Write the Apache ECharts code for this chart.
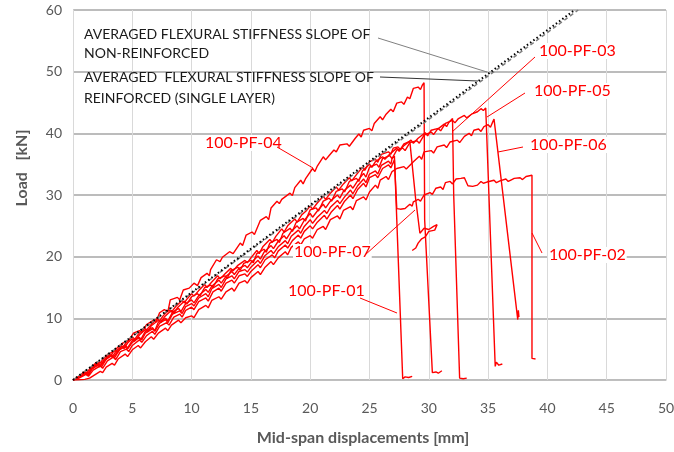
<!DOCTYPE html>
<html lang="en">
<head>
    <meta charset="UTF-8">
    <title>Load vs mid-span displacement</title>
    <script src="https://cdn.jsdelivr.net/npm/echarts@6.0.0/dist/echarts.min.js"></script>
    <style>
        html, body { margin: 0; padding: 0; background: #fff; }
    </style>
</head>
<body>
    <div id="main" style="width: 674px; height: 452px;"></div>
    <script type="text/javascript">
        // axis ticks
        const xTicks = [0, 5, 10, 15, 20, 25, 30, 35, 40, 45, 50];
        const yTicks = [0, 10, 20, 30, 40, 50, 60];

        // averaged stiffness slopes [displacement mm, load kN]
        const slopeNonReinf = [[0, 0], [42.3, 60]];
        const slopeReinf = [[0, 0], [42.6, 60]];

        // test curves
        const pf01 = [[0,0],[0.5,0.5],[1.1,1.1],[1.3,0.8],[1.6,1.8],[2.2,2.5],[2.4,2.1],[2.8,3.4],[3.3,4.0],[3.5,3.6],[3.9,4.9],[4.4,5.4],[4.6,5.0],[5.0,6.1],[5.6,6.9],[5.8,6.5],[6.1,7.6],[6.7,8.3],[6.9,7.9],[7.3,9.2],[7.8,9.8],[8.0,9.3],[8.4,10.7],[9.0,11.2],[9.2,10.8],[9.5,11.9],[10.0,12.4],[10.2,12.0],[10.6,13.3],[11.2,14.0],[11.4,13.5],[11.7,14.8],[12.3,15.5],[12.5,15.0],[12.9,16.4],[13.4,16.9],[13.6,16.4],[14.0,17.6],[14.5,17.9],[14.7,17.5],[15.0,18.3],[15.6,19.4],[15.8,18.9],[16.2,20.2],[16.7,21.0],[16.9,20.5],[17.3,21.6],[17.9,22.6],[18.1,22.1],[18.4,23.3],[19.0,24.3],[19.2,23.8],[19.5,24.9],[20.0,26.0],[20.2,25.4],[20.6,26.4],[21.2,27.5],[21.4,27.0],[21.7,28.0],[22.3,29.1],[22.5,28.6],[22.9,29.7],[23.4,30.8],[23.6,30.2],[24.0,31.5],[24.5,32.6],[24.7,32.0],[25.0,33.4],[25.5,33.9],[25.7,33.4],[26.0,34.8],[26.6,35.5],[26.8,35.0],[26.9,35.9],[27.1,36.3],[27.8,0.2],[28.0,0.5],[28.3,0.4],[28.6,0.6]];
        const pf02 = [[0,0],[0.5,0.3],[1.1,0.9],[1.3,0.6],[1.7,1.6],[2.3,2.3],[2.5,1.9],[2.9,3.1],[3.4,3.7],[3.6,3.3],[4.0,4.6],[4.5,5.0],[4.7,4.6],[5.0,5.6],[5.6,6.5],[5.8,6.1],[6.2,7.2],[6.7,7.9],[6.9,7.4],[7.3,8.7],[7.9,9.3],[8.1,8.9],[8.5,10.2],[9.0,10.7],[9.2,10.2],[9.5,11.3],[10.0,11.8],[10.2,11.4],[10.6,12.7],[11.2,13.3],[11.4,12.8],[11.8,14.3],[12.3,14.9],[12.5,14.4],[12.9,15.7],[13.4,16.2],[13.6,15.7],[14.0,16.9],[14.5,17.2],[14.7,16.8],[15.0,17.6],[15.6,18.7],[15.8,18.2],[16.2,19.5],[16.8,20.3],[17.0,19.8],[17.3,20.9],[17.9,21.9],[18.1,21.4],[18.5,22.6],[19.0,23.5],[19.2,23.0],[19.5,24.1],[20.0,25.0],[20.2,24.5],[20.6,25.6],[21.2,26.7],[21.4,26.1],[21.8,27.3],[22.3,28.3],[22.5,27.7],[22.9,29.0],[23.4,30.0],[23.6,29.4],[24.0,30.9],[24.5,31.9],[24.7,31.3],[25.0,32.8],[25.5,33.3],[25.7,32.8],[26.1,34.3],[26.6,34.9],[26.8,34.4],[27.1,35.7],[27.3,27.8],[27.6,27.7],[28.0,27.8],[28.4,28.5],[28.6,28.2],[28.7,28.9],[29.1,29.3],[29.3,29.0],[29.6,30.0],[30.1,30.4],[30.3,30.1],[30.6,31.1],[31.0,31.3],[31.2,30.9],[31.4,32.0],[31.8,32.2],[32.0,31.8],[32.3,32.6],[32.7,32.7],[33.0,32.8],[33.3,31.5],[33.7,31.4],[34.1,31.6],[34.4,32.2],[34.6,31.9],[34.9,32.1],[35.5,32.4],[35.7,32.0],[36.0,32.3],[36.5,32.6],[36.7,32.2],[37.0,32.5],[37.2,32.7],[37.7,32.8],[37.9,32.5],[38.2,33.0],[38.7,33.2],[38.7,3.5],[39.0,3.4]];
        const pf03 = [[0,0],[0.6,0.5],[1.1,1.2],[1.3,0.9],[1.6,1.8],[2.1,2.6],[2.3,2.2],[2.7,3.2],[3.2,4.1],[3.4,3.7],[3.8,4.7],[4.4,5.7],[4.6,5.2],[5.0,6.4],[5.5,6.9],[5.7,6.5],[6.1,7.9],[6.7,8.5],[6.9,8.0],[7.2,9.4],[7.8,10.0],[8.0,9.6],[8.4,11.0],[8.9,11.6],[9.1,11.1],[9.5,12.4],[10.0,13.0],[10.2,12.5],[10.6,13.7],[11.2,14.7],[11.4,14.2],[11.7,15.2],[12.3,16.2],[12.5,15.7],[12.9,16.8],[13.4,17.6],[13.6,17.1],[14.0,18.1],[14.5,18.6],[14.7,18.2],[15.0,19.0],[15.6,20.1],[15.8,19.6],[16.1,20.7],[16.7,21.8],[16.9,21.3],[17.3,22.5],[17.8,23.4],[18.0,22.9],[18.4,24.1],[18.9,25.0],[19.1,24.5],[19.5,25.9],[20.0,27.0],[20.2,26.4],[20.6,27.4],[21.1,28.5],[21.3,27.9],[21.7,29.0],[22.3,30.0],[22.5,29.5],[22.8,30.6],[23.4,31.6],[23.6,31.1],[24.0,32.3],[24.5,33.5],[24.7,32.9],[25.0,34.5],[25.6,35.0],[25.8,34.5],[26.1,35.9],[26.7,36.4],[26.9,35.9],[27.3,37.3],[27.8,37.6],[28.0,37.2],[28.4,38.5],[29.0,38.8],[29.2,38.4],[29.6,39.7],[30.2,40.2],[30.4,39.8],[30.7,40.6],[31.3,41.5],[31.5,41.1],[31.7,41.8],[32.0,42.4],[32.1,30.0],[32.6,0.3],[32.9,0.2],[33.2,0.3]];
        const pf04 = [[0,0],[0.5,0.6],[1.0,1.3],[1.3,1.2],[1.6,2.0],[2.2,2.9],[2.5,2.7],[3.1,4.3],[3.6,4.8],[3.8,4.5],[4.2,6.0],[4.7,6.4],[5.1,7.6],[5.6,8.0],[5.8,7.7],[6.2,9.0],[6.8,9.7],[7.0,9.4],[7.3,10.9],[7.7,11.4],[8.0,11.1],[8.2,13.0],[8.8,13.4],[9.0,13.0],[9.3,14.6],[9.8,14.9],[10.2,15.7],[10.5,15.3],[10.8,16.6],[11.3,17.3],[11.5,16.9],[11.6,17.9],[12.1,19.5],[12.4,19.2],[12.6,19.9],[13.2,20.8],[13.5,20.5],[14.1,22.2],[14.3,21.8],[14.6,23.5],[15.1,24.0],[15.3,23.6],[15.8,25.9],[16.3,26.5],[16.5,26.0],[16.7,27.9],[17.2,29.0],[17.4,28.6],[17.6,29.3],[18.3,30.3],[18.5,29.9],[18.7,31.2],[19.2,32.4],[19.4,31.8],[19.6,32.6],[20.2,34.3],[20.4,33.8],[20.6,34.7],[21.1,36.2],[21.3,35.7],[21.6,36.4],[22.0,37.3],[22.2,37.0],[22.5,38.1],[23.1,38.3],[23.3,37.9],[23.8,39.2],[24.1,39.9],[24.3,39.4],[24.5,40.5],[25.0,40.8],[25.2,40.4],[25.4,41.6],[25.9,42.7],[26.1,42.2],[26.4,43.1],[26.8,43.9],[27.0,43.5],[27.3,44.9],[27.7,45.1],[27.9,44.7],[28.2,45.9],[28.4,45.6],[28.7,47.3],[29.1,47.5],[29.3,47.1],[29.45,47.8],[29.6,48.2],[29.65,26.0],[30.3,1.2],[30.6,1.3],[30.8,1.1],[31.1,1.5]];
        const pf05 = [[0,0],[0.5,0.4],[1.0,1.1],[1.2,0.8],[1.5,1.7],[2.0,2.5],[2.2,2.1],[2.6,3.2],[3.1,4.1],[3.3,3.7],[3.6,4.6],[4.1,5.5],[4.3,5.1],[4.6,6.0],[5.0,6.7],[5.2,6.3],[5.6,7.3],[6.1,8.2],[6.3,7.8],[6.6,8.8],[7.2,9.7],[7.4,9.3],[7.7,10.2],[8.3,11.3],[8.5,10.8],[8.8,11.7],[9.4,12.8],[9.6,12.3],[10.0,13.5],[10.5,14.0],[10.7,13.6],[11.1,15.0],[11.6,15.4],[11.8,15.0],[12.2,16.4],[12.8,16.9],[13.0,16.5],[13.3,17.7],[13.9,18.3],[14.1,17.8],[14.4,18.9],[15.0,19.4],[15.2,19.0],[15.5,20.5],[16.1,21.2],[16.3,20.7],[16.6,22.2],[17.2,22.8],[17.4,22.3],[17.7,23.8],[18.3,24.6],[18.5,24.1],[18.8,25.5],[19.4,26.2],[19.6,25.8],[20.0,27.6],[20.5,27.9],[20.7,27.4],[21.1,29.0],[21.6,29.5],[21.8,29.0],[22.2,30.6],[22.7,31.0],[22.9,30.5],[23.3,32.2],[23.9,32.7],[24.1,32.2],[24.4,33.9],[25.0,35.0],[25.2,34.5],[25.5,35.4],[26.1,36.2],[26.3,35.8],[26.7,36.6],[27.3,37.6],[27.5,37.1],[27.9,38.0],[28.5,38.9],[28.7,38.4],[29.1,39.2],[29.7,40.1],[29.9,39.6],[30.2,40.5],[30.8,40.8],[31.0,40.4],[31.4,41.6],[32.0,42.1],[32.2,41.7],[32.5,42.4],[33.0,42.9],[33.2,42.5],[33.6,43.1],[34.1,43.5],[34.4,44.0],[34.6,43.7],[34.8,44.1],[35.6,2.2],[35.7,2.9],[35.9,2.4],[36.2,2.6]];
        const pf06 = [[0,0],[0.5,0.05],[1.0,0.1],[1.4,0.3],[1.8,0.8],[2.3,1.4],[2.5,1.2],[2.8,2.1],[3.3,2.7],[3.5,2.4],[3.8,3.4],[4.4,4.2],[4.6,3.8],[5.0,4.9],[5.5,5.6],[5.7,5.2],[6.1,6.2],[6.6,7.0],[6.8,6.6],[7.2,7.6],[7.8,8.4],[8.0,8.0],[8.3,8.9],[8.9,9.7],[9.1,9.3],[9.5,10.1],[10.0,10.4],[10.2,10.1],[10.6,11.4],[11.2,12.1],[11.4,11.7],[11.7,12.9],[12.3,13.5],[12.5,13.1],[12.9,14.3],[13.4,14.9],[13.6,14.4],[14.0,15.7],[14.5,16.1],[14.7,15.7],[15.0,16.6],[15.6,17.6],[15.8,17.1],[16.2,18.3],[16.7,19.2],[16.9,18.7],[17.3,19.8],[17.9,20.8],[18.1,20.3],[18.4,21.5],[19.0,22.4],[19.2,21.9],[19.5,22.9],[20.0,23.4],[20.2,23.0],[20.6,24.4],[21.1,24.9],[21.3,24.4],[21.7,26.0],[22.3,26.6],[22.5,26.1],[22.8,27.5],[23.4,28.1],[23.6,27.6],[23.9,29.1],[24.5,29.7],[24.7,29.2],[25.0,30.5],[25.5,31.6],[25.7,31.1],[25.9,32.4],[26.4,33.0],[26.6,32.5],[26.9,33.8],[27.3,34.3],[27.9,34.6],[28.1,34.2],[28.7,35.4],[29.2,36.3],[29.4,35.8],[29.6,37.0],[30.2,37.2],[30.4,36.8],[30.7,37.8],[31.3,38.1],[31.5,37.7],[31.8,38.6],[32.4,38.9],[32.6,38.5],[33.0,39.5],[33.4,40.0],[33.6,39.6],[33.8,40.5],[34.2,40.7],[34.4,40.3],[34.65,41.1],[35.0,41.4],[35.2,41.0],[35.4,41.9],[35.5,42.3],[37.5,9.8],[37.55,11.3],[37.6,10.2]];
        const pf07 = [[0,0],[0.5,0.5],[0.9,1.3],[1.1,1.0],[1.4,1.8],[2.0,2.9],[2.2,2.5],[2.5,3.3],[3.0,4.3],[3.2,3.9],[3.4,4.6],[4.0,5.7],[4.2,5.3],[4.5,6.1],[5.0,7.0],[5.2,6.6],[5.5,7.4],[6.0,8.5],[6.2,8.1],[6.6,9.0],[7.1,10.0],[7.3,9.6],[7.6,10.4],[8.1,11.4],[8.3,11.0],[8.7,12.0],[9.2,12.9],[9.4,12.5],[9.6,13.1],[10.0,14.0],[10.2,13.6],[10.6,14.5],[11.1,15.5],[11.3,15.0],[11.7,15.9],[12.2,16.9],[12.4,16.4],[12.8,17.2],[13.3,18.1],[13.5,17.7],[13.9,18.6],[14.5,19.4],[14.7,19.0],[15.0,19.8],[15.5,21.0],[15.7,20.5],[16.0,21.6],[16.6,22.8],[16.8,22.3],[17.1,23.3],[17.6,24.5],[17.8,24.0],[18.1,25.0],[18.7,26.1],[18.9,25.6],[19.3,26.8],[19.7,27.5],[20.0,28.2],[20.2,27.7],[20.6,28.7],[21.1,29.8],[21.3,29.3],[21.7,30.3],[22.2,31.3],[22.4,30.8],[22.8,31.8],[23.3,32.8],[23.5,32.3],[23.9,33.3],[24.4,34.5],[24.6,34.0],[25.0,35.4],[25.5,35.8],[25.7,35.3],[26.0,36.6],[26.6,37.0],[26.8,36.6],[27.0,37.6],[27.4,37.8],[27.6,37.4],[27.9,38.3],[28.4,38.7],[28.9,29.2],[29.25,23.8],[29.6,24.6],[30.0,24.4],[30.4,24.9],[30.7,25.2],[30.5,24.3],[30.0,24.1],[29.7,23.2],[29.4,22.9],[29.1,22.2],[28.9,21.4],[28.6,21.0]];

        const curves = [pf01, pf02, pf03, pf04, pf05, pf06, pf07];
        const curveNames = ['100-PF-01', '100-PF-02', '100-PF-03', '100-PF-04', '100-PF-05', '100-PF-06', '100-PF-07'];

        const myChart = echarts.init(document.getElementById('main'));

        const font = 'Lato, "Open Sans", sans-serif';
        const grey = '#595959';
        const red = '#ff0000';

        // red labels with leader lines (pixels)
        const redNotes = [
            { text: '100-PF-04', x: 204, y: 145, line: [277, 147, 313, 168] },
            { text: '100-PF-03', x: 538, y: 53, line: [535, 57, 452, 132] },
            { text: '100-PF-05', x: 533, y: 93, line: [525, 93, 487, 117] },
            { text: '100-PF-06', x: 529, y: 147, line: [523, 147, 498, 152] },
            { text: '100-PF-02', x: 548, y: 257, line: [542, 253, 532, 233] },
            { text: '100-PF-07', x: 293, y: 254, line: [365, 255, 415, 210] },
            { text: '100-PF-01', x: 287, y: 293, line: [360, 298, 397, 313] }
        ];

        const graphics = [];
        redNotes.forEach(n => {
            graphics.push({
                type: 'text', left: n.x, top: n.y - 10, silent: true, z: 10,
                style: { text: n.text, fill: red, font: '16px ' + font, backgroundColor: '#fff', padding: [0, 1] }
            });
            graphics.push({
                type: 'line', silent: true, z: 10,
                shape: { x1: n.line[0], y1: n.line[1], x2: n.line[2], y2: n.line[3] },
                style: { stroke: red, lineWidth: 1 }
            });
        });

        // black slope annotations
        const blackNotes = [
            ['AVERAGED FLEXURAL STIFFNESS SLOPE OF', 36],
            ['NON-REINFORCED', 55],
            ['AVERAGED  FLEXURAL STIFFNESS SLOPE OF', 79],
            ['REINFORCED (SINGLE LAYER)', 100]
        ];
        blackNotes.forEach(b => {
            graphics.push({
                type: 'text', left: 84, top: b[1] - 9, silent: true, z: 10,
                style: { text: b[0], fill: '#1a1a1a', font: '14px ' + font }
            });
        });
        graphics.push({
            type: 'line', silent: true, z: 10,
            shape: { x1: 378, y1: 38, x2: 487, y2: 72 },
            style: { stroke: '#808080', lineWidth: 1 }
        });
        graphics.push({
            type: 'line', silent: true, z: 10,
            shape: { x1: 380, y1: 77, x2: 478, y2: 81 },
            style: { stroke: '#333', lineWidth: 1 }
        });

        // axis titles
        graphics.push({
            type: 'text', silent: true, x: 22, y: 168, rotation: Math.PI / 2,
            style: { text: 'Load   [kN]', fill: grey, font: 'bold 16px ' + font, align: 'center', verticalAlign: 'middle' }
        });
        graphics.push({
            type: 'text', silent: true, x: 363, y: 438,
            style: { text: 'Mid-span displacements [mm]', fill: grey, font: 'bold 16px ' + font, align: 'center', verticalAlign: 'middle' }
        });

        const series = curves.map((c, i) => ({
            name: curveNames[i],
            type: 'line',
            data: c,
            symbol: 'none',
            lineStyle: { color: red, width: 1.4 },
            z: 3
        }));
        series.push({
            name: 'reinforced',
            type: 'line',
            data: slopeReinf,
            symbol: 'none',
            lineStyle: { color: '#7f7f7f', width: 1.5, type: [4, 3] },
            z: 4
        });
        series.push({
            name: 'non-reinforced',
            type: 'line',
            data: slopeNonReinf,
            symbol: 'none',
            lineStyle: { color: '#000', width: 2, type: [1.5, 2.5] },
            z: 5
        });

        const options = {
            animation: false,
            backgroundColor: '#fff',
            grid: { left: 73, right: 8, top: 10, bottom: 72, outerBoundsMode: 'none' },
            xAxis: {
                type: 'value',
                min: xTicks[0],
                max: xTicks[xTicks.length - 1],
                interval: 5,
                axisLine: { show: true, lineStyle: { color: '#bfbfbf', width: 1 } },
                axisTick: { show: false },
                axisLabel: { color: grey, fontSize: 14, fontFamily: font, margin: 21 },
                splitLine: { show: true, lineStyle: { color: '#d9d9d9', width: 1 } }
            },
            yAxis: {
                type: 'value',
                min: yTicks[0],
                max: yTicks[yTicks.length - 1],
                interval: 10,
                axisLine: { show: true, lineStyle: { color: '#d9d9d9', width: 1 } },
                axisTick: { show: false },
                axisLabel: { color: grey, fontSize: 14, fontFamily: font, margin: 11 },
                splitLine: { show: true, lineStyle: { color: '#a6a6a6', width: 1.5 } }
            },
            series: series,
            graphic: graphics
        };

        myChart.setOption(options);
    </script>
</body>
</html>
